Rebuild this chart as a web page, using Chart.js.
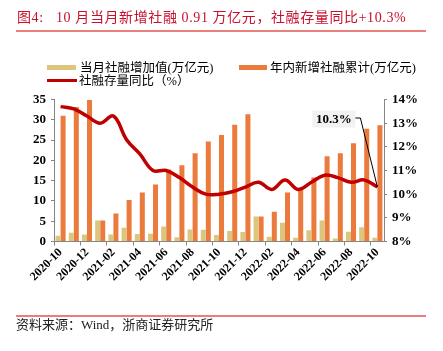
<!DOCTYPE html>
<html>
<head>
<meta charset="utf-8">
<script src="https://cdn.jsdelivr.net/npm/chart.js@4.4.0/dist/chart.umd.min.js"></script>
<style>
  html, body { margin: 0; padding: 0; background: #fff; }
  #wrap { position: relative; width: 443px; height: 351px; overflow: hidden; background: #fff; }
  #chart-box { position: absolute; left: 0; top: 0; width: 443px; height: 351px; }
  .txt { position: absolute; white-space: pre; font-family: "Liberation Serif", "Noto Sans CJK SC", serif; color: #000; }
  #title { left: 17px; top: 9px; font-size: 14px; line-height: 18px; color: #C8102E; letter-spacing: 0.6px; }
  .rule { position: absolute; left: 16px; width: 410px; height: 0; border-top: 2px solid #E8807A; }
  .swatch { position: absolute; }
  .leg { font-size: 12.5px; line-height: 14px; }
  #source { left: 16px; top: 317px; font-size: 13px; line-height: 16px; color: #222; }
</style>
</head>
<body>
<div id="wrap">
  <div id="chart-box"><canvas id="tsf-chart"></canvas></div>
  <div class="txt" id="title">图4:   10 月当月新增社融 0.91 万亿元，社融存量同比+10.3%</div>
  <div class="rule" style="top:30px;"></div>

  <!-- legend -->
  <div class="swatch" style="left:47px; top:65px; width:29px; height:5px; background:#DCC57E;"></div>
  <div class="txt leg" style="left:80px; top:61px;">当月社融增加值(万亿元)</div>
  <div class="swatch" style="left:239px; top:65px; width:28px; height:5px; background:#EB7B3C;"></div>
  <div class="txt leg" style="left:270px; top:61px;">年内新增社融累计(万亿元)</div>
  <div class="swatch" style="left:47px; top:79px; width:30px; height:3px; background:#C00000;"></div>
  <div class="txt leg" style="left:79px; top:74px;">社融存量同比（%）</div>

  <div class="rule" style="top:315px;"></div>
  <div class="txt" id="source">资料来源：Wind，浙商证券研究所</div>
</div>

<script>
// Categories
const months = [
    '2020-10', '2020-11', '2020-12',
    '2021-01', '2021-02', '2021-03', '2021-04', '2021-05', '2021-06',
    '2021-07', '2021-08', '2021-09', '2021-10', '2021-11', '2021-12',
    '2022-01', '2022-02', '2022-03', '2022-04', '2022-05', '2022-06',
    '2022-07', '2022-08', '2022-09', '2022-10'
];

// 当月社融增加值 (万亿元)
const monthlyNew = [1.42, 2.13, 1.72, 5.17, 1.71, 3.37, 1.85, 1.92, 3.67, 1.06, 2.96, 2.90, 1.59,
                    2.61, 2.37, 6.17, 1.19, 4.65, 0.91, 2.79, 5.17, 0.76, 2.43, 3.53, 0.91];

// 年内新增社融累计 (万亿元)
const ytdNew = [31.01, 33.14, 34.86, 5.17, 6.88, 10.25, 12.10, 14.02, 17.74, 18.80, 21.76, 24.66, 26.25,
                28.80, 31.35, 6.17, 7.36, 12.06, 12.97, 15.76, 21.01, 21.77, 24.21, 27.77, 28.68];

// 社融存量同比 (%)
const stockYoY = [13.7, 13.6, 13.3, 13.0, 13.3, 12.3, 11.7, 11.0, 11.0, 10.7, 10.3, 10.0, 10.0,
                  10.1, 10.3, 10.5, 10.2, 10.6, 10.2, 10.5, 10.8, 10.7, 10.5, 10.6, 10.3];

// Axis ranges
const leftMin = 0, leftMax = 35, leftStep = 5;
const rightMin = 8, rightMax = 14, rightStep = 1;

const axisGray = '#868686';
const tickFont = { family: "'Liberation Serif', serif", weight: 'bold', size: 13 };

// Callout box for the latest YoY value
const calloutPlugin = {
    id: 'callout',
    afterDatasetsDraw(chart) {
        const meta = chart.getDatasetMeta(2);
        const pt = meta.data[meta.data.length - 1];
        if (!pt) return;
        const ctx = chart.ctx;
        const boxR = pt.x - 22;
        const boxL = boxR - 43;
        const boxT = chart.chartArea.top + 11;
        const boxH = 17;
        const midY = boxT + boxH / 2;

        ctx.save();
        ctx.fillStyle = '#F2F2F2';
        ctx.fillRect(boxL, boxT, boxR - boxL, boxH);

        ctx.strokeStyle = '#000';
        ctx.lineWidth = 1;
        ctx.beginPath();
        ctx.moveTo(boxR, midY - 1);
        ctx.lineTo(boxR + 5, midY - 1);
        ctx.lineTo(pt.x, pt.y);
        ctx.stroke();

        ctx.fillStyle = '#000';
        ctx.font = "bold 13px 'Liberation Serif', serif";
        ctx.textAlign = 'center';
        ctx.textBaseline = 'middle';
        ctx.fillText(stockYoY[stockYoY.length - 1] + '%', (boxL + boxR) / 2, midY + 1);
        ctx.restore();
    }
};

const ctx = document.getElementById('tsf-chart').getContext('2d');
new Chart(ctx, {
    type: 'bar',
    data: {
        labels: months,
        datasets: [
            {
                label: '当月社融增加值(万亿元)',
                data: monthlyNew,
                backgroundColor: '#DCC57E',
                yAxisID: 'y',
                order: 1,
                categoryPercentage: 0.76,
                barPercentage: 1.0
            },
            {
                label: '年内新增社融累计(万亿元)',
                data: ytdNew,
                backgroundColor: '#EB7B3C',
                yAxisID: 'y',
                order: 1,
                categoryPercentage: 0.76,
                barPercentage: 1.0
            },
            {
                type: 'line',
                label: '社融存量同比（%）',
                data: stockYoY,
                borderColor: '#C00000',
                backgroundColor: '#C00000',
                borderWidth: 3.5,
                tension: 0.4,
                pointRadius: 0,
                yAxisID: 'y1',
                order: 0
            }
        ]
    },
    options: {
        responsive: true,
        maintainAspectRatio: false,
        animation: false,
        devicePixelRatio: 1,
        layout: {
            padding: { top: 99.5, bottom: 49.5, left: 0, right: 0 }
        },
        plugins: {
            legend: { display: false },
            tooltip: { enabled: false }
        },
        scales: {
            x: {
                offset: true,
                grid: {
                    offset: true,
                    drawOnChartArea: false,
                    drawTicks: true,
                    tickLength: 4,
                    color: (c) => (c.index % 2 === 0 ? axisGray : 'rgba(0,0,0,0)')
                },
                border: { display: true, color: axisGray, width: 1 },
                ticks: {
                    autoSkip: false,
                    maxRotation: 45,
                    minRotation: 45,
                    padding: 0,
                    color: '#000',
                    font: { family: "'Liberation Serif', serif", weight: 'bold', size: 12 },
                    callback: (val, i) => (i % 2 === 0 ? months[i] : '')
                },
                afterFit: (s) => { s.height = 60; }
            },
            y: {
                position: 'left',
                min: leftMin,
                max: leftMax,
                grid: { drawOnChartArea: false, drawTicks: true, tickLength: 3, color: axisGray },
                border: { display: true, color: axisGray, width: 1 },
                ticks: { stepSize: leftStep, padding: 5, color: '#000', font: tickFont },
                afterFit: (s) => { s.width = 54; }
            },
            y1: {
                position: 'right',
                min: rightMin,
                max: rightMax,
                grid: { drawOnChartArea: false, drawTicks: true, tickLength: 3, color: axisGray },
                border: { display: true, color: axisGray, width: 1 },
                ticks: {
                    stepSize: rightStep,
                    padding: 5,
                    color: '#000',
                    font: tickFont,
                    callback: (v) => v + '%'
                },
                afterFit: (s) => { s.width = 59; }
            }
        }
    },
    plugins: [calloutPlugin]
});
</script>
</body>
</html>
